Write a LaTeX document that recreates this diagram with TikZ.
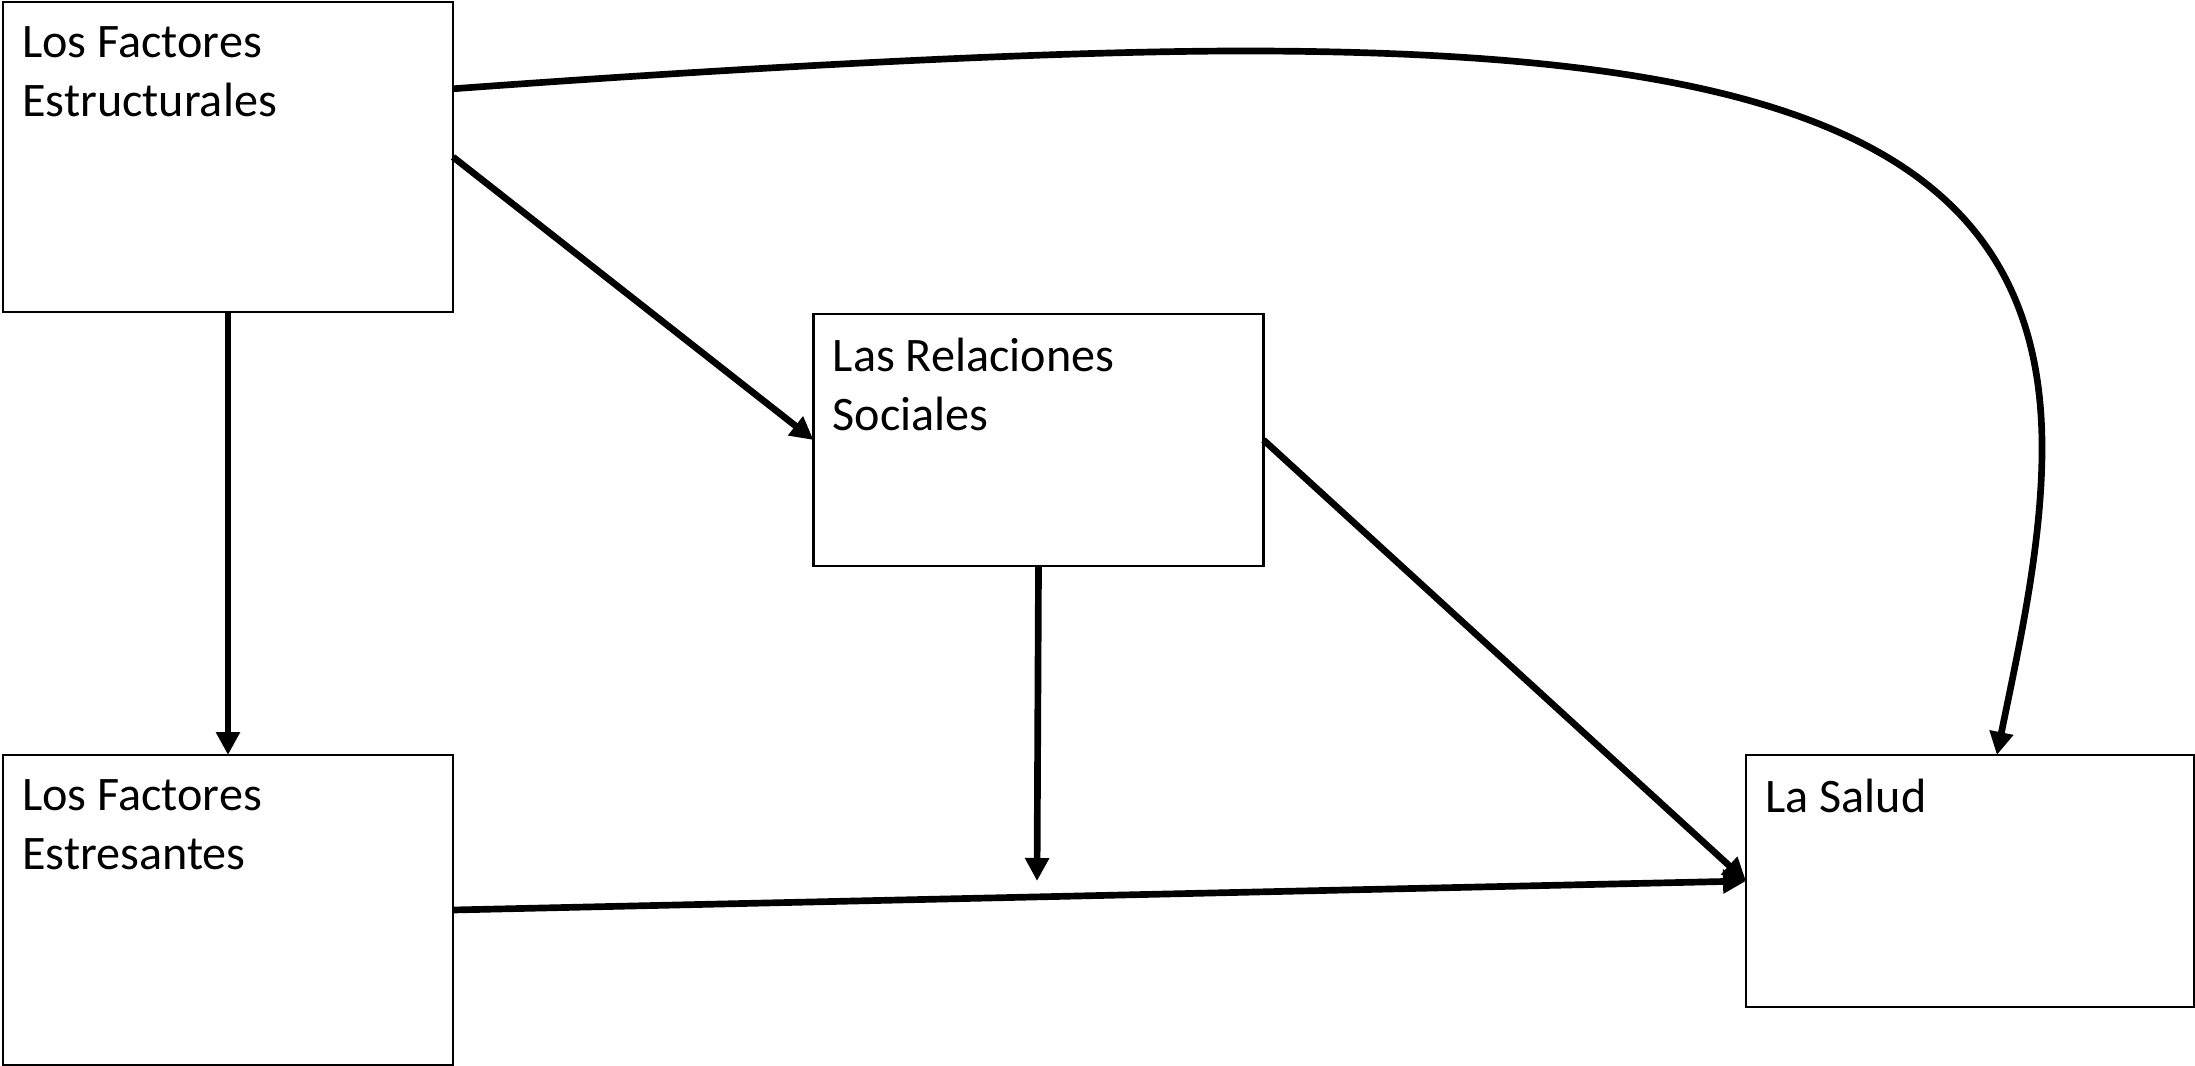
\documentclass[tikz,border=0pt]{standalone}
\usepackage{fontspec}
\setmainfont{Carlito}
\usepackage{tikz}
\usetikzlibrary{positioning}
\usetikzlibrary{arrows.meta}
\usetikzlibrary{calc}
\tikzset{box node/.style={rectangle,draw,line width=0.6pt,inner sep=0pt,outer sep=0pt,minimum width=4.5cm},
text node/.style={inner sep=0pt,align=left,font=\fontsize{13.7pt}{16.8pt}\selectfont},}

\begin{document}
\begin{tikzpicture}[->, >={Triangle[length=2.3mm,width=2.3mm]}, line width=1.9pt]
	\useasboundingbox (0,0) rectangle (21.95,-10.66);
	\node[box node, minimum height=3.1cm] (est) at (2.28,-1.57) {};
	\node[box node, minimum height=3.1cm] (estr) [below = 4.43cm of est] {};
	\node[box node, minimum height=2.52cm] (rel) at (10.385,-4.40) {};
	\node[box node, minimum height=2.52cm, minimum width=4.48cm] (salud) at (19.70,-8.81) {};

	\node[text node] (est text) [below right = 0.21cm and 0.16cm of est.north west] {Los Factores\\Estructurales};
	\node[text node] (estr text) [below right = 0.21cm and 0.16cm of estr.north west] {Los Factores\\Estresantes};
	\node[text node] (rel text) [below right = 0.21cm and 0.16cm of rel.north west] {Las Relaciones\\Sociales};
	\node[text node] (salud text) [below right = 0.21cm and 0.16cm of salud.north west] {La Salud};

	\coordinate (top) at (12.44,-0.51);
	\coordinate (bend) at (20.42,-4.48);
	\coordinate (drop) at (10.37,-8.81);

	\draw (est.south) -- (estr.north);
	\draw (est.east) -- (rel.west);
	\draw (rel.east) -- (salud.west);
	\draw (estr.east) -- (salud.west);
	\draw (rel.south) -- (drop);
	\draw ($(est.north east)!0.28!(est.south east)$) .. controls (7.5,-0.67) and (10.5,-0.51) .. (top)
	      .. controls (17.94,-0.51) and (20.42,-1.48) .. (bend)
	      .. controls (20.42,-5.48) and (20.17,-6.55) .. ($(salud.north west)!0.56!(salud.north east)$);
\end{tikzpicture}
\end{document}
